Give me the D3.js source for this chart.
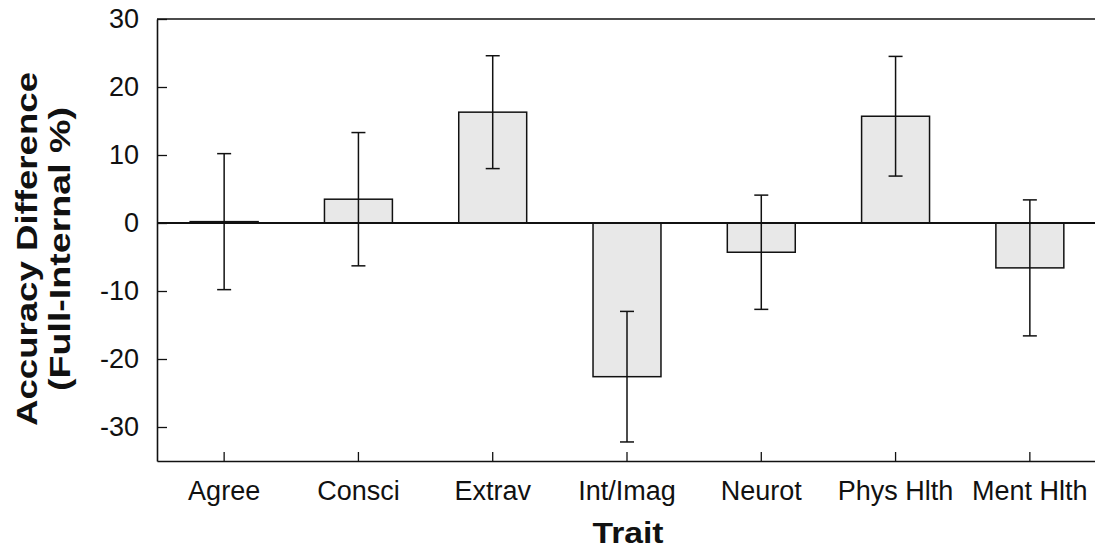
<!DOCTYPE html>
<html>
<head>
<meta charset="utf-8">
<script src="https://cdn.jsdelivr.net/npm/d3@7"></script>
<style>
  html, body { margin: 0; padding: 0; background: #fff; }
  svg { display: block; }
  text { font-family: "Liberation Sans", Arial, Helvetica, sans-serif; fill: #111; }
</style>
</head>
<body>
<svg id="chart" width="1095" height="550"></svg>
<script>
const categories = ["Agree", "Consci", "Extrav", "Int/Imag", "Neurot", "Phys Hlth", "Ment Hlth"];
const values = [0.2, 3.5, 16.3, -22.6, -4.3, 15.7, -6.6];
const errors = [10.0, 9.8, 8.3, 9.6, 8.4, 8.8, 10.0];
const yTicks = [-30, -20, -10, 0, 10, 20, 30];
const yDomain = [-35, 30];
const xTitle = "Trait";
const yTitleLines = ["Accuracy Difference", "(Full-Internal %)"];

(function () {
const svg = d3.select("#chart");
const mLeft = 157, mRight = 1097, mTop = 19, mBottom = 461;

const x = d3.scaleBand().domain(categories).range([mLeft, mRight])
  .paddingInner(0.494).paddingOuter(0.247);
const y = d3.scaleLinear().domain(yDomain).range([mBottom, mTop]);

const stroke = "#111";

// top frame line
svg.append("line")
  .attr("x1", mLeft).attr("x2", 1095)
  .attr("y1", y(yDomain[1])).attr("y2", y(yDomain[1]))
  .attr("stroke", stroke).attr("stroke-width", 1.6);

// bars
svg.append("g").selectAll("rect").data(categories).join("rect")
  .attr("x", d => x(d))
  .attr("width", x.bandwidth())
  .attr("y", (d, i) => y(Math.max(0, values[i])))
  .attr("height", (d, i) => Math.abs(y(values[i]) - y(0)))
  .attr("fill", "#e8e8e8")
  .attr("stroke", stroke)
  .attr("stroke-width", 1.5);

// zero line
svg.append("line")
  .attr("x1", mLeft).attr("x2", 1095)
  .attr("y1", y(0)).attr("y2", y(0))
  .attr("stroke", stroke).attr("stroke-width", 2);

// error bars
const eg = svg.append("g").attr("stroke", stroke).attr("stroke-width", 1.5);
categories.forEach((c, i) => {
  const cx = x(c) + x.bandwidth() / 2;
  const hi = values[i] + errors[i], lo = values[i] - errors[i];
  eg.append("line").attr("x1", cx).attr("x2", cx).attr("y1", y(hi)).attr("y2", y(lo));
  eg.append("line").attr("x1", cx - 7).attr("x2", cx + 7).attr("y1", y(hi)).attr("y2", y(hi));
  eg.append("line").attr("x1", cx - 7).attr("x2", cx + 7).attr("y1", y(lo)).attr("y2", y(lo));
});

// y axis
const yAxis = svg.append("g").attr("transform", `translate(${mLeft},0)`)
  .call(d3.axisLeft(y).tickValues(yTicks).tickFormat(d => String(d))
    .tickSizeInner(-10).tickSizeOuter(0).tickPadding(18));
yAxis.select(".domain").attr("stroke", stroke).attr("stroke-width", 1.6);
yAxis.selectAll(".tick line").attr("stroke", stroke).attr("stroke-width", 1.3);
yAxis.selectAll(".tick text").attr("font-size", 27).attr("fill", "#111")
  .style("font-family", "'Liberation Sans', Arial, sans-serif");

// x axis
const xAxis = svg.append("g").attr("transform", `translate(0,${mBottom})`)
  .call(d3.axisBottom(x).tickSizeInner(-9).tickSizeOuter(0).tickPadding(20));
xAxis.select(".domain").attr("stroke", stroke).attr("stroke-width", 1.6);
xAxis.selectAll(".tick line").attr("stroke", stroke).attr("stroke-width", 1.3);
xAxis.selectAll(".tick text").attr("font-size", 27).attr("fill", "#111")
  .style("font-family", "'Liberation Sans', Arial, sans-serif");

// x title
svg.append("text")
  .attr("x", 628).attr("y", 543)
  .attr("text-anchor", "middle")
  .attr("font-size", 29).attr("font-weight", "bold")
  .attr("textLength", 71).attr("lengthAdjust", "spacingAndGlyphs")
  .text(xTitle);

// y title (two lines, rotated)
const yt = svg.append("g").attr("transform", "translate(0,249) rotate(-90)");
yt.append("text").attr("x", 0).attr("y", 37)
  .attr("text-anchor", "middle").attr("font-size", 30).attr("font-weight", "bold")
  .attr("textLength", 354).attr("lengthAdjust", "spacingAndGlyphs")
  .text(yTitleLines[0]);
yt.append("text").attr("x", 0).attr("y", 70)
  .attr("text-anchor", "middle").attr("font-size", 30).attr("font-weight", "bold")
  .attr("textLength", 284).attr("lengthAdjust", "spacingAndGlyphs")
  .text(yTitleLines[1]);
})();
</script>
</body>
</html>
